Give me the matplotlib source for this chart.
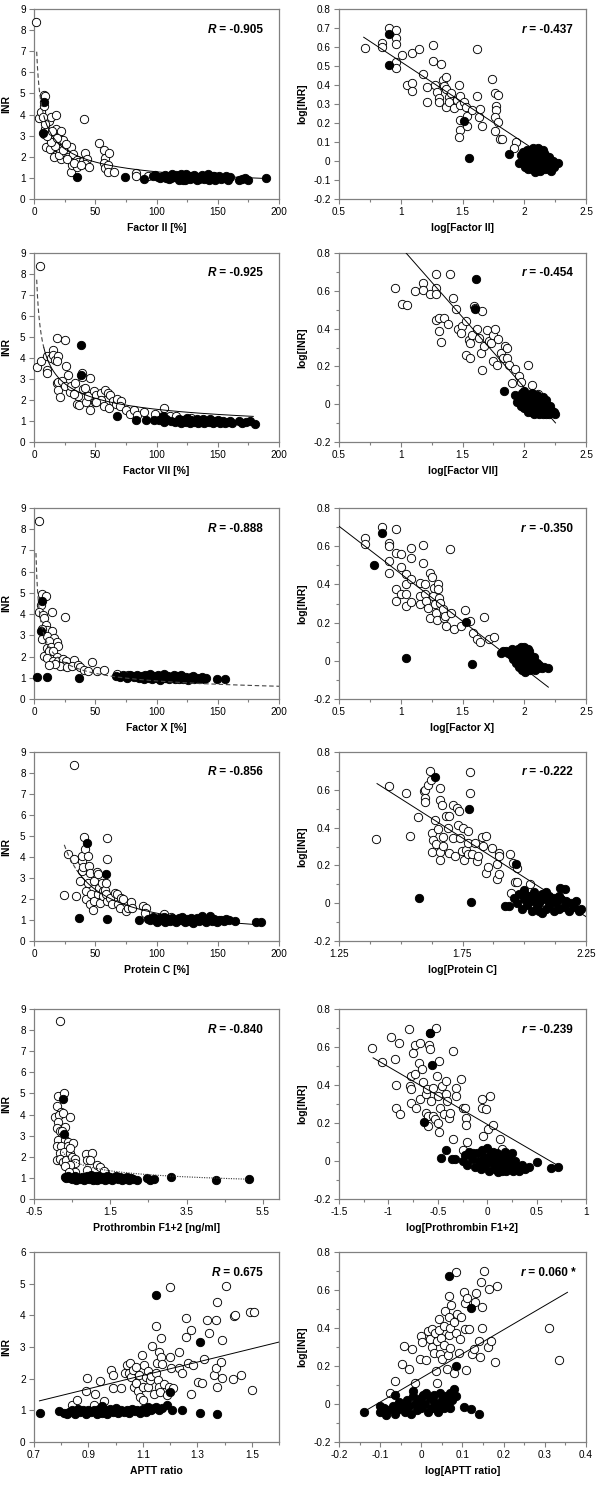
import numpy as np
import matplotlib
matplotlib.use('Agg')
import matplotlib.pyplot as plt
from matplotlib.ticker import FixedLocator, FuncFormatter

plt.rcParams['font.family'] = ['Liberation Sans', 'DejaVu Sans']

# ---------------- DATA ----------------
# Row 1 : Factor II
P1L_open = np.array([
    (2, 8.4), (8, 4.95), (9, 4.9), (4, 3.85), (6, 4.1), (8, 4.4), (9, 3.3), (8, 3.1), (10, 3.6), (12, 3.7),
    (14, 3.9), (18, 4.0), (18, 3.3), (22, 3.2), (16, 2.9), (15, 2.6), (12, 2.5), (10, 2.45), (13, 2.35),
    (20, 2.3), (18, 2.1), (16, 2.0), (22, 2.8), (24, 2.8), (25, 2.5), (22, 1.9), (20, 2.1), (26, 2.2),
    (28, 2.0), (30, 2.45), (30, 1.3), (32, 2.15), (31, 1.6), (35, 1.85), (35, 1.5), (36, 1.75), (40, 1.8),
    (42, 2.2), (41, 3.8), (43, 1.9), (42, 1.65), (45, 1.5), (53, 2.65), (57, 2.3), (58, 1.95), (57, 1.7),
    (58, 1.45), (60, 1.6), (61, 2.2), (60, 1.3), (65, 1.3), (83, 1.25), (83, 1.1), (93, 1.1), (20, 2.4),
    (17, 2.5), (14, 2.7), (11, 3.0), (9, 3.55), (7, 3.9), (24, 2.3), (27, 1.9), (33, 1.7), (38, 1.6),
    (15, 3.2), (19, 2.9), (26, 2.6)])
P1L_filled = np.array([
    (8, 4.6), (7, 3.15), (35, 1.02), (74, 1.05), (90, 0.95), (97, 1.1), (99, 1.15), (101, 1.05), (103, 1.0),
    (105, 1.08), (107, 1.12), (110, 0.95), (112, 1.0), (113, 1.2), (115, 1.05), (116, 1.15), (118, 0.9),
    (119, 1.0), (120, 1.2), (121, 1.05), (123, 0.92), (124, 1.18), (125, 1.0), (127, 0.95), (128, 1.1),
    (130, 1.0), (131, 1.15), (133, 0.9), (134, 1.05), (136, 1.0), (137, 1.12), (139, 0.95), (141, 1.05),
    (142, 1.2), (143, 0.9), (145, 1.0), (147, 1.1), (148, 0.92), (150, 1.0), (151, 1.08), (153, 0.95),
    (155, 1.0), (157, 1.1), (158, 0.9), (160, 1.05), (167, 0.88), (170, 0.95), (172, 1.0), (175, 0.9),
    (189, 1.0), (108, 0.98), (122, 0.9), (135, 0.95), (146, 1.1)])
P1R_open = np.array([
    (0.71, 0.593), (0.845, 0.62), (0.845, 0.60), (0.907, 0.70), (0.96, 0.69), (0.96, 0.65), (0.96, 0.618),
    (0.96, 0.52), (0.96, 0.487), (1.007, 0.556), (1.05, 0.40), (1.09, 0.41), (1.09, 0.37), (1.09, 0.567),
    (1.15, 0.588), (1.18, 0.46), (1.21, 0.39), (1.21, 0.31), (1.26, 0.61), (1.26, 0.526), (1.28, 0.40),
    (1.29, 0.365), (1.31, 0.33), (1.31, 0.31), (1.325, 0.51), (1.34, 0.426), (1.37, 0.44), (1.35, 0.395),
    (1.37, 0.38), (1.37, 0.286), (1.39, 0.335), (1.39, 0.31), (1.41, 0.356), (1.43, 0.277), (1.455, 0.32),
    (1.47, 0.40), (1.48, 0.34), (1.48, 0.295), (1.48, 0.216), (1.48, 0.163), (1.47, 0.125), (1.51, 0.312),
    (1.53, 0.286), (1.537, 0.237), (1.537, 0.184), (1.58, 0.268), (1.62, 0.588), (1.62, 0.342),
    (1.63, 0.233), (1.645, 0.274), (1.66, 0.186), (1.74, 0.43), (1.76, 0.36), (1.77, 0.29), (1.77, 0.268),
    (1.76, 0.233), (1.76, 0.158), (1.786, 0.207), (1.79, 0.347), (1.80, 0.114), (1.82, 0.114),
    (1.93, 0.10), (1.92, 0.067)])
P1R_filled = np.array([
    (0.907, 0.668), (0.907, 0.505), (1.51, 0.212), (1.55, 0.017), (1.876, 0.037), (1.957, -0.012),
    (1.97, 0.03), (1.99, 0.05), (2.0, 0.0), (2.01, -0.03), (2.02, 0.06), (2.03, 0.02), (2.04, -0.01),
    (2.05, 0.04), (2.06, -0.04), (2.07, 0.07), (2.07, 0.01), (2.08, -0.02), (2.09, 0.05), (2.09, -0.06),
    (2.10, 0.02), (2.11, -0.03), (2.11, 0.07), (2.12, 0.0), (2.13, 0.04), (2.13, -0.05), (2.14, 0.02),
    (2.15, -0.02), (2.15, 0.06), (2.16, 0.0), (2.17, -0.04), (2.17, 0.03), (2.18, 0.01), (2.19, -0.03),
    (2.2, 0.02), (2.21, -0.01), (2.22, -0.05), (2.23, 0.0), (2.24, -0.03), (2.27, -0.01), (2.05, 0.01),
    (2.03, -0.04), (2.08, 0.03), (2.12, -0.02), (2.16, 0.04), (2.2, -0.04), (2.1, 0.0), (2.14, -0.01),
    (2.06, 0.03), (2.19, 0.01), (2.01, 0.02)])

# Row 2 : Factor VII
P2L_open = np.array([
    (4.9, 8.4), (2.2, 3.56), (5.4, 3.84), (10.3, 4.1), (10.3, 3.44), (10.8, 3.3), (13.6, 4.0), (15.2, 4.4),
    (15.7, 4.16), (17, 3.9), (19, 4.95), (19.8, 4.08), (19, 3.87), (18.4, 2.8), (19.8, 2.84), (19.8, 2.46),
    (21, 2.14), (25.2, 4.87), (26, 3.63), (27.9, 3.2), (22.5, 2.9), (25.2, 2.65), (29, 2.4), (30.6, 2.65),
    (33.3, 2.8), (34.7, 1.83), (36.6, 1.75), (36, 2.17), (38.8, 3.29), (39.6, 2.52), (41.5, 2.57),
    (42.3, 1.89), (45.5, 3.05), (45.5, 1.51), (44.2, 2.17), (49, 2.41), (50, 1.89), (51, 2.25), (54.5, 2.33),
    (55, 2.02), (57, 1.70), (58, 2.49), (60.4, 2.33), (61, 1.62), (62, 2.25), (64.5, 1.94), (67, 1.83),
    (68, 2.05), (71, 1.94), (70, 1.70), (75, 1.54), (78, 1.35), (82, 1.54), (84, 1.30), (90, 1.41),
    (99, 1.35), (106, 1.62), (111, 1.22), (116, 1.25), (128, 1.14), (38.8, 3.1), (33, 2.3), (51, 1.9)])
P2L_filled = np.array([
    (38.2, 4.63), (38.2, 3.2), (68, 1.22), (83.5, 1.06), (91.6, 1.03), (97.6, 1.06), (102, 1.06), (105, 1.22),
    (106.5, 0.97), (108, 1.08), (112, 1.0), (115, 0.95), (118, 1.1), (120, 0.92), (122, 1.05), (124, 0.95),
    (125, 1.12), (127, 0.9), (129, 1.0), (131, 0.95), (133, 1.08), (134, 0.9), (136, 1.0), (138, 1.1),
    (139, 0.92), (141, 1.02), (143, 0.95), (144, 1.08), (146, 0.9), (148, 1.0), (150, 1.05), (152, 0.92),
    (154, 1.0), (156, 0.9), (158, 0.95), (160, 0.98), (162, 0.9), (167, 1.02), (170, 0.92), (173, 0.95),
    (176, 1.0), (180, 0.88), (128, 1.05), (137, 0.95), (147, 0.95)])
P2R_open = np.array([
    (0.957, 0.615), (1.008, 0.532), (1.048, 0.523), (1.118, 0.597), (1.183, 0.641), (1.183, 0.606),
    (1.237, 0.585), (1.285, 0.691), (1.285, 0.615), (1.285, 0.585), (1.285, 0.447), (1.306, 0.456),
    (1.347, 0.456), (1.306, 0.386), (1.325, 0.329), (1.379, 0.424), (1.398, 0.691), (1.425, 0.562),
    (1.45, 0.504), (1.46, 0.398), (1.495, 0.415), (1.487, 0.377), (1.532, 0.438), (1.532, 0.262),
    (1.559, 0.244), (1.554, 0.338), (1.56, 0.324), (1.58, 0.368), (1.594, 0.518), (1.6, 0.51),
    (1.616, 0.398), (1.634, 0.35), (1.648, 0.271), (1.656, 0.491), (1.661, 0.183), (1.675, 0.306),
    (1.696, 0.394), (1.715, 0.333), (1.728, 0.324), (1.75, 0.368), (1.763, 0.398), (1.75, 0.227),
    (1.78, 0.209), (1.79, 0.345), (1.81, 0.271), (1.828, 0.244), (1.844, 0.31), (1.863, 0.297),
    (1.863, 0.244), (1.88, 0.209), (1.925, 0.186), (1.957, 0.151), (1.903, 0.112), (1.97, 0.116),
    (2.032, 0.209), (2.064, 0.1), (2.11, 0.056)])
P2R_filled = np.array([
    (1.608, 0.664), (1.602, 0.505), (1.839, 0.072), (1.922, 0.047), (1.94, 0.01), (1.96, 0.03), (1.97, -0.01),
    (1.98, 0.06), (1.99, 0.02), (2.0, -0.02), (2.0, 0.07), (2.01, 0.04), (2.02, 0.0), (2.03, -0.04),
    (2.04, 0.05), (2.05, 0.02), (2.05, -0.02), (2.06, 0.06), (2.07, 0.0), (2.08, -0.05), (2.08, 0.03),
    (2.09, 0.01), (2.1, -0.03), (2.1, 0.05), (2.11, 0.0), (2.12, -0.05), (2.12, 0.03), (2.13, 0.01),
    (2.14, -0.02), (2.15, 0.04), (2.15, -0.05), (2.16, 0.0), (2.17, -0.03), (2.18, 0.02), (2.19, -0.01),
    (2.2, -0.05), (2.21, -0.01), (2.22, -0.03), (2.24, -0.04), (2.25, -0.05), (2.06, -0.04), (2.14, 0.03),
    (2.18, -0.05), (2.03, 0.03)])

# Row 3 : Factor X
P3L_open = np.array([
    (4, 8.4), (6.3, 4.95), (9.5, 4.87), (5.4, 4.42), (4.3, 4.1), (7.6, 3.95), (8.2, 3.8), (15, 4.09),
    (25, 3.85), (9.8, 3.47), (11, 3.27), (14.4, 3.19), (6.3, 2.85), (10.3, 2.96), (16.3, 2.88), (18.5, 2.69),
    (12.2, 2.72), (10.3, 2.41), (13.6, 2.44), (19.8, 2.49), (8.2, 2.01), (12.5, 2.25), (15.8, 2.25),
    (18.5, 1.97), (10.9, 1.94), (15.8, 1.81), (19.8, 1.78), (22.6, 1.65), (23.4, 1.9), (26, 1.78),
    (25.3, 1.54), (21.2, 1.54), (17, 1.65), (26.6, 1.5), (32.6, 1.86), (30.7, 1.54), (35.6, 1.62),
    (37.5, 1.5), (40.8, 1.39), (44.3, 1.31), (47, 1.73), (51.6, 1.34), (57, 1.39), (68, 1.18), (77, 1.12),
    (12.5, 1.62), (6.3, 3.32)])
P3L_filled = np.array([
    (6.8, 4.64), (5.4, 3.19), (2.2, 1.03), (10.9, 1.03), (37, 1.0), (149, 0.92), (156, 0.92),
    (67, 1.08), (70, 1.05), (73, 1.12), (76, 1.0), (78, 1.15), (80, 1.1), (82, 1.05), (84, 1.12), (86, 1.0),
    (88, 1.08), (90, 0.95), (91, 1.12), (93, 1.05), (95, 1.18), (96, 0.92), (98, 1.1), (100, 1.0),
    (101, 1.15), (103, 0.9), (104, 1.08), (106, 1.18), (107, 0.98), (109, 1.1), (110, 0.92), (112, 1.05),
    (114, 1.15), (115, 0.95), (117, 1.08), (119, 1.0), (120, 1.12), (122, 0.95), (124, 1.05), (126, 0.9),
    (128, 1.02), (130, 1.08), (131, 0.92), (133, 1.0), (135, 0.95), (137, 1.02), (139, 0.92), (140, 1.0),
    (94, 1.0), (102, 1.05), (108, 1.0), (118, 0.92)])
P3R_open = np.array([
    (0.708, 0.643), (0.708, 0.612), (0.849, 0.699), (0.96, 0.69), (0.905, 0.617), (0.905, 0.6),
    (0.905, 0.525), (0.905, 0.461), (0.96, 0.565), (1.0, 0.557), (1.0, 0.49), (0.96, 0.374), (0.96, 0.313),
    (1.0, 0.348), (1.046, 0.456), (1.046, 0.4), (1.046, 0.351), (1.046, 0.287), (1.086, 0.591),
    (1.086, 0.539), (1.086, 0.426), (1.086, 0.31), (1.154, 0.409), (1.159, 0.339), (1.154, 0.296),
    (1.181, 0.605), (1.181, 0.51), (1.195, 0.4), (1.2, 0.348), (1.208, 0.313), (1.22, 0.278),
    (1.235, 0.226), (1.235, 0.461), (1.257, 0.438), (1.262, 0.339), (1.27, 0.383), (1.276, 0.296),
    (1.284, 0.252), (1.29, 0.212), (1.303, 0.4), (1.303, 0.374), (1.311, 0.33), (1.316, 0.304),
    (1.343, 0.27), (1.349, 0.226), (1.365, 0.183), (1.362, 0.235), (1.397, 0.586), (1.41, 0.252),
    (1.432, 0.165), (1.49, 0.183), (1.519, 0.264), (1.559, 0.209), (1.586, 0.148), (1.614, 0.113),
    (1.64, 0.101), (1.673, 0.23), (1.716, 0.113), (1.757, 0.122)])
P3R_filled = np.array([
    (0.849, 0.67), (0.784, 0.499), (1.527, 0.203), (1.046, 0.014), (1.573, -0.017),
    (1.81, 0.04), (1.83, 0.05), (1.85, 0.05), (1.87, 0.04), (1.89, 0.03), (1.9, 0.06), (1.91, 0.01),
    (1.92, 0.04), (1.93, -0.01), (1.94, 0.02), (1.95, 0.06), (1.96, -0.03), (1.96, 0.03), (1.97, 0.0),
    (1.98, -0.05), (1.98, 0.05), (1.99, 0.02), (2.0, -0.02), (2.0, 0.07), (2.01, 0.04), (2.02, -0.04),
    (2.02, 0.01), (2.03, 0.06), (2.04, -0.01), (2.05, 0.03), (2.05, -0.05), (2.06, 0.0), (2.07, -0.03),
    (2.08, 0.02), (2.09, -0.05), (2.1, -0.01), (2.11, -0.04), (2.12, -0.02), (2.14, -0.04), (2.16, -0.03),
    (2.19, -0.04), (2.01, -0.06), (1.97, 0.07), (2.04, 0.05)])

# Row 4 : Protein C
P4L_open = np.array([
    (32.6, 8.4), (24.7, 2.19), (28, 4.15), (32.6, 3.91), (34, 2.14), (37.5, 2.85), (38.9, 3.8), (38.9, 4.04),
    (38.9, 3.33), (40.2, 3.52), (40.8, 4.94), (41.6, 4.36), (42.4, 2.38), (42.4, 1.98), (44.3, 2.77),
    (44.3, 4.04), (45.1, 3.56), (45.7, 3.25), (45.7, 1.74), (46.2, 2.22), (48.9, 2.85), (49.2, 1.9),
    (51.1, 3.29), (51.9, 2.22), (52.4, 3.17), (53.3, 2.53), (53.8, 1.82), (55.2, 2.77), (56, 2.38),
    (56.5, 2.14), (57.9, 2.45), (58.7, 2.77), (59.2, 1.9), (59.8, 4.91), (59.8, 3.91), (58.7, 2.25),
    (62, 2.06), (63.3, 1.74), (66, 2.3), (67.4, 2.22), (68.8, 1.77), (70.1, 1.55), (70.7, 2.06),
    (72.8, 1.98), (75.5, 1.42), (76.9, 1.58), (79, 1.87), (79.6, 1.58), (88.6, 1.66), (91.8, 1.58),
    (90.5, 1.35), (106, 1.27), (112, 1.14), (48.4, 1.5)])
P4L_filled = np.array([
    (43.5, 4.67), (58.7, 3.17), (37, 1.08), (59.8, 1.06), (86, 0.98), (164, 0.95), (181.5, 0.92),
    (185.6, 0.92), (93, 1.05), (95, 0.98), (97, 1.12), (99, 1.0), (100, 0.9), (102, 1.08), (104, 1.0),
    (106, 1.15), (107, 0.92), (109, 1.05), (111, 0.95), (113, 1.1), (115, 1.0), (116, 0.9), (118, 1.08),
    (120, 1.0), (121, 1.15), (123, 0.92), (125, 1.05), (126, 0.95), (128, 1.1), (130, 0.88), (131, 1.0),
    (133, 1.08), (135, 0.95), (137, 1.18), (138, 1.02), (140, 0.9), (142, 1.05), (144, 1.18), (145, 0.95),
    (147, 1.05), (149, 0.9), (151, 1.0), (153, 1.02), (155, 0.95), (157, 1.05), (159, 1.0), (110, 1.0),
    (127, 1.0)])
P4R_open = np.array([
    (1.401, 0.34), (1.453, 0.619), (1.523, 0.583), (1.537, 0.355), (1.57, 0.455), (1.593, 0.592),
    (1.597, 0.601), (1.597, 0.557), (1.597, 0.536), (1.611, 0.627), (1.618, 0.698), (1.624, 0.654),
    (1.628, 0.372), (1.631, 0.337), (1.628, 0.272), (1.638, 0.442), (1.642, 0.311), (1.651, 0.39),
    (1.658, 0.61), (1.658, 0.548), (1.658, 0.272), (1.658, 0.231), (1.669, 0.522), (1.672, 0.349),
    (1.672, 0.302), (1.685, 0.46), (1.692, 0.399), (1.696, 0.46), (1.696, 0.267), (1.712, 0.522),
    (1.712, 0.346), (1.719, 0.249), (1.726, 0.504), (1.732, 0.416), (1.736, 0.49), (1.739, 0.346),
    (1.746, 0.275), (1.753, 0.399), (1.757, 0.231), (1.766, 0.284), (1.773, 0.319), (1.773, 0.258),
    (1.773, 0.384), (1.782, 0.693), (1.782, 0.583), (1.789, 0.258), (1.8, 0.319), (1.807, 0.223),
    (1.814, 0.249), (1.827, 0.349), (1.834, 0.302), (1.845, 0.354), (1.847, 0.161), (1.854, 0.191),
    (1.868, 0.293), (1.888, 0.208), (1.899, 0.267), (1.899, 0.249), (1.888, 0.126), (1.897, 0.156),
    (1.942, 0.261), (1.946, 0.055), (1.953, 0.214), (1.962, 0.113), (1.969, 0.187), (1.972, 0.113),
    (2.023, 0.099)])
P4R_filled = np.array([
    (1.638, 0.666), (1.776, 0.501), (1.965, 0.205), (1.572, 0.025), (1.784, 0.008), (1.939, -0.015),
    (1.923, -0.015), (2.145, 0.078), (2.165, 0.073), (1.96, 0.03), (1.97, 0.0), (1.98, 0.05), (1.99, -0.03),
    (2.0, 0.02), (2.0, 0.07), (2.01, -0.01), (2.02, 0.04), (2.03, -0.04), (2.03, 0.01), (2.04, 0.06),
    (2.05, -0.02), (2.05, 0.03), (2.06, 0.0), (2.07, -0.05), (2.07, 0.05), (2.08, 0.02), (2.09, -0.03),
    (2.1, 0.04), (2.1, -0.01), (2.11, 0.01), (2.12, -0.04), (2.12, 0.03), (2.13, 0.0), (2.14, -0.03),
    (2.15, 0.02), (2.16, -0.02), (2.17, 0.01), (2.18, -0.04), (2.19, 0.0), (2.2, -0.02), (2.21, 0.01),
    (2.22, -0.04), (2.23, -0.03), (2.06, -0.04), (2.01, 0.04), (2.09, 0.06), (2.14, 0.04)])

# Row 5 : Prothrombin F1+2
P5L_open = np.array([
    (0.18, 8.43), (0.14, 4.88), (0.28, 5.0), (0.09, 4.41), (0.2, 4.14), (0.05, 3.9), (0.16, 3.98),
    (0.27, 4.06), (0.44, 3.87), (0.14, 3.67), (0.09, 3.35), (0.31, 3.43), (0.18, 3.2), (0.24, 2.96),
    (0.14, 2.8), (0.31, 2.8), (0.4, 2.72), (0.09, 2.49), (0.22, 2.49), (0.4, 2.49), (0.51, 2.67),
    (0.18, 2.17), (0.28, 2.25), (0.44, 2.17), (0.09, 1.85), (0.18, 1.89), (0.27, 1.73), (0.35, 1.85),
    (0.49, 2.01), (0.57, 1.89), (0.57, 1.7), (0.44, 1.62), (0.31, 1.54), (0.57, 1.3), (0.42, 1.3),
    (0.86, 2.14), (1.03, 2.17), (0.9, 1.85), (0.96, 1.85), (0.9, 1.38), (1.14, 1.59), (1.23, 1.51),
    (1.36, 1.22), (1.33, 1.34), (0.24, 3.24), (0.44, 2.41)])
P5L_filled = np.array([
    (0.27, 4.73), (0.28, 3.09), (3.1, 1.02), (4.28, 0.9), (5.13, 0.94), (0.3, 1.05), (0.35, 0.98),
    (0.4, 1.08), (0.45, 1.0), (0.5, 0.95), (0.55, 1.05), (0.6, 0.9), (0.65, 1.0), (0.7, 0.95), (0.75, 1.05),
    (0.8, 0.9), (0.85, 1.0), (0.9, 1.08), (0.95, 0.95), (1.0, 1.12), (1.05, 0.9), (1.1, 1.02), (1.15, 0.92),
    (1.2, 1.08), (1.25, 0.95), (1.3, 1.05), (1.35, 0.9), (1.4, 1.0), (1.45, 0.95), (1.5, 1.05), (1.55, 0.92),
    (1.6, 1.0), (1.65, 1.1), (1.7, 0.95), (1.75, 1.05), (1.8, 0.9), (1.85, 1.0), (1.9, 0.95), (1.95, 1.05),
    (2.0, 0.92), (2.05, 1.0), (2.1, 0.95), (2.2, 0.92), (2.45, 0.98), (2.55, 0.92), (2.65, 0.94),
    (1.12, 1.1), (0.58, 1.08), (1.42, 1.08)])
P5R_open = np.array([
    (-1.162, 0.595), (-1.061, 0.522), (-0.97, 0.651), (-0.936, 0.538), (-0.895, 0.622), (-0.926, 0.398),
    (-0.919, 0.281), (-0.885, 0.249), (-0.791, 0.695), (-0.733, 0.613), (-0.75, 0.569), (-0.676, 0.622),
    (-0.767, 0.45), (-0.784, 0.394), (-0.767, 0.377), (-0.767, 0.307), (-0.733, 0.456), (-0.723, 0.281),
    (-0.689, 0.517), (-0.682, 0.324), (-0.655, 0.482), (-0.649, 0.415), (-0.622, 0.351), (-0.615, 0.255),
    (-0.608, 0.377), (-0.598, 0.237), (-0.598, 0.185), (-0.581, 0.674), (-0.588, 0.613), (-0.581, 0.59),
    (-0.564, 0.316), (-0.547, 0.386), (-0.547, 0.237), (-0.53, 0.22), (-0.514, 0.7), (-0.507, 0.447),
    (-0.497, 0.342), (-0.497, 0.202), (-0.486, 0.153), (-0.486, 0.525), (-0.473, 0.281), (-0.453, 0.394),
    (-0.439, 0.246), (-0.419, 0.351), (-0.412, 0.421), (-0.405, 0.316), (-0.385, 0.228), (-0.372, 0.255),
    (-0.345, 0.578), (-0.345, 0.118), (-0.318, 0.386), (-0.311, 0.342), (-0.267, 0.429), (-0.243, 0.281),
    (-0.226, 0.281), (-0.216, 0.228), (-0.216, 0.188), (-0.209, 0.101), (-0.25, 0.059), (-0.057, 0.328),
    (-0.057, 0.281), (-0.047, 0.132), (-0.014, 0.276), (0.01, 0.167), (0.027, 0.342), (0.061, 0.188),
    (0.128, 0.118), (0.145, 0.062)])
P5R_filled = np.array([
    (-0.574, 0.674), (-0.554, 0.506), (-0.642, 0.206), (-0.463, 0.018), (-0.419, 0.059), (-0.36, 0.013),
    (-0.328, 0.013), (0.507, -0.004), (0.642, -0.039), (0.72, -0.034), (-0.25, 0.0), (-0.22, 0.03),
    (-0.2, -0.02), (-0.18, 0.05), (-0.15, 0.01), (-0.12, -0.03), (-0.1, 0.04), (-0.08, 0.0), (-0.06, -0.04),
    (-0.05, 0.06), (-0.03, 0.02), (-0.02, -0.02), (0.0, 0.07), (0.0, 0.01), (0.02, -0.05), (0.03, 0.03),
    (0.05, -0.01), (0.06, 0.05), (0.08, -0.04), (0.09, 0.01), (0.1, 0.04), (0.12, -0.02), (0.13, 0.02),
    (0.15, -0.05), (0.16, 0.0), (0.18, 0.05), (0.2, -0.03), (0.21, 0.02), (0.23, -0.01), (0.25, 0.04),
    (0.26, -0.05), (0.28, 0.0), (0.3, -0.03), (0.32, -0.05), (0.35, -0.02), (0.38, -0.04), (0.42, -0.03),
    (-0.14, 0.04), (0.07, 0.03), (0.19, -0.05), (0.11, -0.06), (-0.04, -0.01), (0.24, -0.04)])

# Row 6 : APTT ratio
P6L_open = np.array([
    (0.839, 1.16), (0.859, 1.32), (0.895, 2.01), (0.892, 1.62), (0.925, 1.53), (0.919, 1.16), (0.941, 1.93),
    (0.958, 1.3), (0.983, 2.27), (0.991, 2.11), (0.991, 1.69), (1.019, 1.69), (1.033, 2.19), (1.043, 2.43),
    (1.048, 2.19), (1.054, 2.5), (1.057, 2.06), (1.063, 2.27), (1.069, 1.74), (1.075, 2.38), (1.075, 1.85),
    (1.081, 1.62), (1.087, 2.11), (1.09, 1.43), (1.095, 2.75), (1.099, 1.32), (1.105, 2.43), (1.102, 1.74),
    (1.111, 2.06), (1.117, 2.25), (1.119, 1.74), (1.126, 1.96), (1.131, 2.08), (1.135, 3.03), (1.141, 1.53),
    (1.147, 2.17), (1.15, 3.67), (1.153, 2.48), (1.156, 1.96), (1.159, 1.74), (1.159, 2.85), (1.162, 1.59),
    (1.167, 3.28), (1.167, 2.69), (1.171, 2.45), (1.177, 1.83), (1.189, 1.48), (1.195, 1.74), (1.198, 4.89),
    (1.201, 2.69), (1.203, 2.33), (1.21, 1.72), (1.231, 2.33), (1.234, 2.85), (1.243, 2.17), (1.258, 3.91),
    (1.26, 3.33), (1.266, 2.5), (1.276, 3.54), (1.276, 1.51), (1.284, 2.43), (1.302, 1.9), (1.318, 1.85),
    (1.326, 2.61), (1.335, 3.86), (1.344, 3.43), (1.362, 2.11), (1.368, 3.86), (1.368, 2.33), (1.371, 4.41),
    (1.374, 1.74), (1.386, 2.54), (1.392, 3.22), (1.392, 2.01), (1.407, 4.94), (1.431, 2.0), (1.434, 3.98),
    (1.438, 4.0), (1.462, 2.11), (1.494, 4.12), (1.509, 4.12), (1.5, 1.64)])
P6L_filled = np.array([
    (0.722, 0.92), (1.147, 4.65), (1.311, 3.17), (1.171, 1.06), (1.189, 1.16), (1.207, 1.0), (1.245, 1.0),
    (1.311, 0.92), (1.371, 0.9), (1.2, 1.57), (0.79, 0.98), (0.81, 0.92), (0.82, 0.88), (0.83, 0.95),
    (0.84, 1.0), (0.85, 0.9), (0.86, 1.05), (0.87, 0.95), (0.88, 1.0), (0.89, 0.9), (0.9, 1.02), (0.91, 0.95),
    (0.92, 1.0), (0.93, 0.9), (0.94, 1.05), (0.95, 1.15), (0.95, 0.92), (0.96, 1.0), (0.97, 0.9),
    (0.98, 1.05), (0.99, 0.95), (1.0, 1.0), (1.01, 0.92), (1.02, 1.02), (1.03, 0.95), (1.04, 1.0),
    (1.05, 0.92), (1.06, 1.05), (1.07, 0.98), (1.08, 1.0), (1.09, 0.92), (1.1, 1.05), (1.11, 0.95),
    (1.12, 1.1), (1.13, 1.0), (1.14, 1.08), (1.15, 1.12), (1.16, 1.02), (1.0, 1.08), (0.9, 0.98)])
P6R_open = np.array([
    (-0.075, 0.06), (-0.064, 0.122), (-0.048, 0.212), (-0.042, 0.304), (-0.031, 0.184), (-0.023, 0.287),
    (-0.015, 0.113), (-0.003, 0.237), (-0.001, 0.358), (0.001, 0.326), (0.012, 0.234), (0.017, 0.384),
    (0.022, 0.343), (0.026, 0.299), (0.026, 0.396), (0.03, 0.269), (0.034, 0.375), (0.036, 0.172),
    (0.038, 0.113), (0.039, 0.331), (0.042, 0.446), (0.044, 0.389), (0.046, 0.265), (0.048, 0.349),
    (0.05, 0.237), (0.054, 0.411), (0.056, 0.308), (0.058, 0.49), (0.062, 0.184), (0.064, 0.26),
    (0.066, 0.361), (0.066, 0.566), (0.068, 0.46), (0.069, 0.296), (0.07, 0.402), (0.072, 0.52),
    (0.079, 0.432), (0.08, 0.163), (0.083, 0.375), (0.085, 0.694), (0.087, 0.473), (0.091, 0.269),
    (0.093, 0.343), (0.096, 0.46), (0.103, 0.591), (0.105, 0.531), (0.107, 0.393), (0.109, 0.181),
    (0.111, 0.556), (0.115, 0.393), (0.123, 0.265), (0.127, 0.287), (0.131, 0.538), (0.134, 0.584),
    (0.14, 0.331), (0.142, 0.248), (0.144, 0.644), (0.148, 0.513), (0.148, 0.402), (0.153, 0.699),
    (0.162, 0.301), (0.164, 0.605), (0.17, 0.331), (0.18, 0.219), (0.184, 0.623), (0.31, 0.402),
    (0.335, 0.23)])
P6R_filled = np.array([
    (0.066, 0.673), (0.121, 0.503), (0.083, 0.202), (-0.139, -0.041), (-0.101, -0.009), (-0.064, 0.048),
    (0.14, -0.053), (0.121, -0.028), (0.103, -0.014), (-0.1, -0.04), (-0.09, -0.02), (-0.085, -0.06),
    (-0.08, -0.03), (-0.07, -0.01), (-0.065, -0.05), (-0.06, -0.03), (-0.05, -0.02), (-0.045, 0.0),
    (-0.04, -0.04), (-0.035, 0.02), (-0.03, -0.01), (-0.025, -0.05), (-0.02, 0.04), (-0.015, 0.0),
    (-0.01, -0.03), (-0.005, 0.02), (0.0, -0.02), (0.005, 0.05), (0.01, 0.0), (0.015, -0.04), (0.02, 0.03),
    (0.025, -0.02), (0.03, 0.05), (0.035, 0.0), (0.04, -0.04), (0.045, 0.06), (0.05, 0.02), (0.055, -0.02),
    (0.06, 0.04), (0.065, 0.0), (0.07, 0.06), (0.075, 0.02), (0.08, 0.08), (0.085, 0.04), (-0.02, 0.07),
    (0.0, 0.03), (0.03, 0.01), (-0.055, 0.01), (0.045, -0.01), (0.07, -0.02), (0.012, 0.06)])

# Fitted curves
# left column: INR = A * x**b  (segments: x0, x1, style)
LEFT_FITS = [
    (9.89, -0.4425, [(2.2, 8, 'dash'), (8, 190, 'solid')]),
    (10.76, -0.4197, [(2.2, 8, 'dash'), (8, 179, 'solid')]),
    (8.72, -0.505, [(1.6, 200, 'dash')]),
    (78.5, -0.886, [(24.7, 35, 'dash'), (35, 180, 'solid')]),
    (1.50, -0.287, [(0.25, 5.1, 'dot')]),
]
LEFT6_LINE = (2.11, -0.22, 0.72, 1.6)          # slope, intercept, x0, x1
RIGHT_LINES = [(-0.428, 0.951, 0.70, 2.27), (-0.743, 1.575, 0.95, 2.253), (-0.497, 0.953, 0.5, 2.195),
               (-0.832, 1.801, 1.404, 2.25), (-0.303, 0.193, -1.155, 0.72), (1.27, 0.137, -0.133, 0.355)]

LEFT_XLABELS = ['Factor II [%]', 'Factor VII [%]', 'Factor X [%]', 'Protein C [%]',
                'Prothrombin F1+2 [ng/ml]', 'APTT ratio']
RIGHT_XLABELS = ['log[Factor II]', 'log[Factor VII]', 'log[Factor X]', 'log[Protein C]',
                 'log[Prothrombin F1+2]', 'log[APTT ratio]']
LEFT_STATS = [' = -0.905', ' = -0.925', ' = -0.888', ' = -0.856', ' = -0.840', ' = 0.675']
RIGHT_STATS = [' = -0.437', ' = -0.454', ' = -0.350', ' = -0.222', ' = -0.239', ' = 0.060 *']

LEFT_DATA = [(P1L_open, P1L_filled), (P2L_open, P2L_filled), (P3L_open, P3L_filled),
             (P4L_open, P4L_filled), (P5L_open, P5L_filled), (P6L_open, P6L_filled)]
RIGHT_DATA = [(P1R_open, P1R_filled), (P2R_open, P2R_filled), (P3R_open, P3R_filled),
              (P4R_open, P4R_filled), (P5R_open, P5R_filled), (P6R_open, P6R_filled)]

# ---------------- FIGURE ----------------
W, H = 600, 1487
fig = plt.figure(figsize=(W / 100, H / 100), dpi=100)
ROWS = [(9, 199), (253, 442), (508, 699), (752, 941), (1009, 1199), (1252, 1442)]
LEFT_X = (34, 279)
RIGHT_X = (339, 586)
GRAY = '#808080'
MS = 36


def fmt(v, pos=None):
    v = round(v, 4)
    if abs(v) < 1e-9:
        return '0'
    return '%g' % v


def style_axes(ax, xlim, ylim, xmaj, xmin, ymaj, ymin):
    ax.set_xlim(*xlim)
    ax.set_ylim(*ylim)
    ax.xaxis.set_major_locator(FixedLocator(xmaj))
    ax.yaxis.set_major_locator(FixedLocator(ymaj))
    if xmin:
        ax.xaxis.set_minor_locator(FixedLocator(xmin))
    if ymin:
        ax.yaxis.set_minor_locator(FixedLocator(ymin))
    ax.xaxis.set_major_formatter(FuncFormatter(fmt))
    ax.yaxis.set_major_formatter(FuncFormatter(fmt))
    for s in ax.spines.values():
        s.set_color(GRAY)
        s.set_linewidth(0.9)
    ax.tick_params(which='major', direction='out', length=3.5, width=0.8, color=GRAY,
                   labelsize=7.2, pad=2.5)
    ax.tick_params(which='minor', direction='out', length=2.5, width=0.8, color=GRAY)


def scatter(ax, open_pts, filled_pts):
    ax.scatter(open_pts[:, 0], open_pts[:, 1], s=MS, facecolor='white', edgecolor='black',
               linewidth=0.65, zorder=3, clip_on=False)
    ax.scatter(filled_pts[:, 0], filled_pts[:, 1], s=MS, facecolor='black', edgecolor='black',
               linewidth=0.65, zorder=4, clip_on=False)


def stat_text(ax, letter, rest, x, y):
    t = ax.text(x, y, rest, transform=ax.transAxes, ha='right', va='bottom',
                fontsize=8.5, fontweight='bold', zorder=6)
    ax.annotate(letter, xy=(0, 0), xycoords=t, ha='right', va='bottom',
                fontsize=8.5, fontweight='bold', fontstyle='italic', zorder=6)


lin_styles = {'solid': dict(ls='-', color='black', lw=0.7),
              'dash': dict(ls=(0, (4, 2.5)), color='#444444', lw=0.8),
              'dot': dict(ls=(0, (1, 1.2)), color='#333333', lw=0.8)}

x_0_200 = ([0, 50, 100, 150, 200], [25, 75, 125, 175])
left_x_ticks = [x_0_200, x_0_200, x_0_200, x_0_200,
                ([-0.5, 1.5, 3.5, 5.5], [0.5, 2.5, 4.5]),
                ([0.7, 0.9, 1.1, 1.3, 1.5], [0.8, 1.0, 1.2, 1.4, 1.6])]
left_xlims = [(0, 200)] * 4 + [(-0.5, 5.92), (0.7, 1.6)]
left_ylims = [(0, 9)] * 5 + [(0, 6)]

r_x05 = ([0.5, 1, 1.5, 2, 2.5], [0.75, 1.25, 1.75, 2.25])
right_x_ticks = [r_x05, r_x05, r_x05,
                 ([1.25, 1.75, 2.25], [1.375, 1.5, 1.625, 1.875, 2.0, 2.125]),
                 ([-1.5, -1, -0.5, 0, 0.5, 1], [-1.25, -0.75, -0.25, 0.25, 0.75]),
                 ([-0.2, -0.1, 0, 0.1, 0.2, 0.3, 0.4], [-0.15, -0.05, 0.05, 0.15, 0.25, 0.35])]
right_xlims = [(0.5, 2.5)] * 3 + [(1.25, 2.25), (-1.5, 1.0), (-0.2, 0.4)]

for i, (top, bot) in enumerate(ROWS):
    # ---- left panel
    ax = fig.add_axes([LEFT_X[0] / W, 1 - bot / H, (LEFT_X[1] - LEFT_X[0]) / W, (bot - top) / H])
    ymax = left_ylims[i][1]
    style_axes(ax, left_xlims[i], left_ylims[i], left_x_ticks[i][0], left_x_ticks[i][1],
               list(range(0, ymax + 1)), None)
    op, fi = LEFT_DATA[i]
    scatter(ax, op, fi)
    if i < 5:
        A, b, segs = LEFT_FITS[i]
        for x0, x1, st in segs:
            xx = np.linspace(x0, x1, 300)
            ax.plot(xx, A * xx ** b, zorder=5, **lin_styles[st])
    else:
        m, c, x0, x1 = LEFT6_LINE
        ax.plot([x0, x1], [m * x0 + c, m * x1 + c], zorder=5, **lin_styles['solid'])
    ax.set_xlabel(LEFT_XLABELS[i], fontsize=7.5, fontweight='bold', labelpad=4)
    ax.set_ylabel('INR', fontsize=7.5, fontweight='bold', labelpad=6)
    stat_text(ax, 'R', LEFT_STATS[i], 0.935, 0.86)

    # ---- right panel
    ax = fig.add_axes([RIGHT_X[0] / W, 1 - bot / H, (RIGHT_X[1] - RIGHT_X[0]) / W, (bot - top) / H])
    if i == 0:
        ymaj = [round(-0.2 + 0.1 * k, 1) for k in range(11)]
        ymin = None
    else:
        ymaj = [-0.2, 0, 0.2, 0.4, 0.6, 0.8]
        ymin = [-0.1, 0.1, 0.3, 0.5, 0.7]
    style_axes(ax, right_xlims[i], (-0.2, 0.8), right_x_ticks[i][0], right_x_ticks[i][1], ymaj, ymin)
    op, fi = RIGHT_DATA[i]
    scatter(ax, op, fi)
    m, c, x0, x1 = RIGHT_LINES[i]
    ax.plot([x0, x1], [m * x0 + c, m * x1 + c], zorder=5, clip_on=True, **lin_styles['solid'])
    ax.set_xlabel(RIGHT_XLABELS[i], fontsize=7.5, fontweight='bold', labelpad=4)
    ax.set_ylabel('log[INR]', fontsize=7.5, fontweight='bold', labelpad=4)
    stat_text(ax, 'r', RIGHT_STATS[i], 0.947 if i < 5 else 0.96, 0.86)

fig.savefig('out.png', dpi=100)
